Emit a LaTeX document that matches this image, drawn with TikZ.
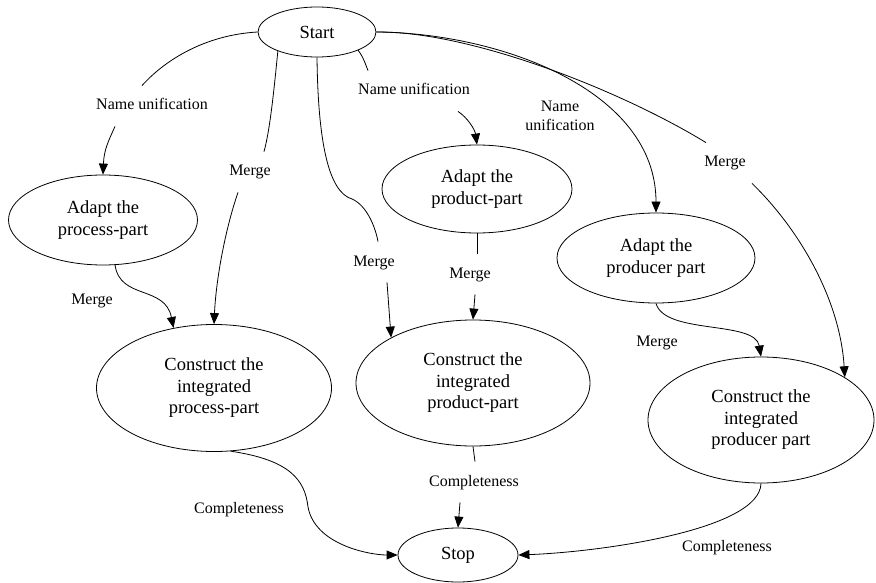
\documentclass[tikz,border=0pt]{standalone}
\usepackage{fontspec}
\setmainfont{LiberationSerif}[Extension=.ttf,UprightFont=*-Regular,BoldFont=*-Bold]
\usetikzlibrary{shapes.geometric,arrows.meta}
\begin{document}
\begin{tikzpicture}[x=1pt,y=-1pt,line width=0.8pt,
    task/.style={ellipse,draw,inner sep=0pt,align=center,
        font=\rmfamily\fontsize{18.5}{21.5}\selectfont},
    lbl/.style={inner sep=1pt,align=center,font=\rmfamily\fontsize{16}{19}\selectfont},
    lblgap/.style={lbl,text height=12pt,text depth=4pt,inner ysep=12pt},
    arr/.style={-{Triangle[length=11pt,width=9pt]}}]
            \useasboundingbox (0,0) rectangle (876,583);

            % states
            \node[task,minimum width=118,minimum height=50] (start) at (317,32) {Start};
            \node[task,minimum width=189,minimum height=90] (ap1) at (103,220) {Adapt the\\process-part};
            \node[task,minimum width=190,minimum height=88] (ap2) at (477,189) {Adapt the\\product-part};
            \node[task,minimum width=198,minimum height=90] (ap3) at (656,258) {Adapt the\\producer part};
            \node[task,minimum width=235,minimum height=127] (ci1) at (214,388) {Construct the\\integrated\\process-part};
            \node[task,minimum width=234,minimum height=126] (ci2) at (473,383) {Construct the\\integrated\\product-part};
            \node[task,minimum width=226,minimum height=126] (ci3) at (761,420) {Construct the\\integrated\\producer part};
            \node[task,minimum width=120,minimum height=54] (stop) at (458,555) {Stop};

            % edge labels
            \node[lblgap] (nu1) at (152,106) {Name unification};
            \node[lblgap] (mg1) at (250,172) {Merge};
            \node[lblgap] (mg2) at (374,262) {Merge};
            \node[lblgap] (nu2) at (414,91) {Name unification};
            \node[lbl] (nu3) at (560,116) {Name\\unification};
            \node[lblgap] (mg3) at (725,163) {Merge};
            \node[lbl] (mg4) at (92,301) {Merge};
            \node[lblgap] (mg5) at (470,274) {Merge};
            \node[lbl] (mg6) at (657,343) {Merge};
            \node[lbl] (cp1) at (239,510) {Completeness};
            \node[lblgap] (cp2) at (474,482) {Completeness};
            \node[lbl] (cp3) at (727,548) {Completeness};

            % from start
            \draw (start.west) .. controls (205,35) and (165,60) .. ([xshift=-10pt]nu1.north);
            \draw[arr] ([xshift=-37pt]nu1.south) .. controls (108,142) and (104,150) .. (ap1.north);
            \draw (start.206) .. controls (274,90) and (270,130) .. ([xshift=14pt]mg1.north);
            \draw[arr] ([xshift=-12pt]mg1.south) .. controls (225,230) and (216,280) .. (ci1.north);
            \draw (start.south) .. controls (318,140) and (328,192) .. (352,199)
                .. controls (368,206) and (376,230) .. ([xshift=4pt]mg2.north);
            \draw[arr] ([xshift=13pt]mg2.south) -- (ci2.151);
            \draw (start.336) .. controls (364,58) and (366,66) .. ([xshift=-46pt]nu2.north);
            \draw[arr] ([xshift=44pt]nu2.south) .. controls (468,118) and (475,130) .. (ap2.north);
            \draw[arr] (start.east) .. controls (500,33) and (656,90) .. (ap3.north);
            \draw (start.east) .. controls (470,31) and (620,90) .. ([xshift=-19pt]mg3.north);
            \draw[arr] ([xshift=27pt]mg3.south) .. controls (800,230) and (840,300) .. (ci3.27);

            % adapt -> construct
            \draw[arr] (ap1.285) .. controls (120,300) and (165,285) .. (ci1.124);
            \draw (ap2.south) -- ([xshift=7pt]mg5.north);
            \draw[arr] ([xshift=5pt]mg5.south) -- (ci2.north);
            \draw[arr] (ap3.south) .. controls (665,335) and (755,320) .. (ci3.north);

            % construct -> stop
            \draw[arr] (ci1.285) .. controls (290,460) and (305,480) .. (308,507)
                .. controls (315,545) and (370,555) .. (stop.west);
            \draw (ci2.south) -- ([xshift=1pt]cp2.north);
            \draw[arr] ([xshift=-14pt]cp2.south) -- (stop.north);
            \draw[arr] (ci3.south) .. controls (760,530) and (600,552) .. (stop.east);
\end{tikzpicture}
\end{document}
